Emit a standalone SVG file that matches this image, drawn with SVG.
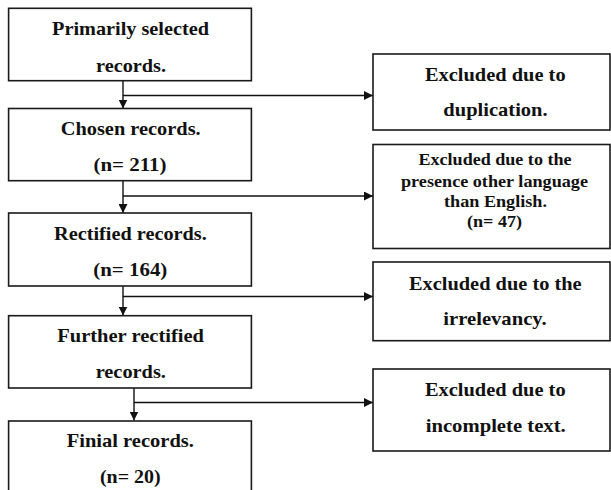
<svg xmlns="http://www.w3.org/2000/svg" width="611" height="490" viewBox="0 0 611 490">
<style>
.box{fill:#fff;stroke:#1a1a1a;stroke-width:1.6}
.t{font-family:"Liberation Serif","Times New Roman",serif;font-weight:bold;font-size:19px;fill:#111;text-anchor:middle}
.s{font-size:16.5px}
.c{fill:none;stroke:#111;stroke-width:1.4}
</style>
<defs>
<marker id="ah" viewBox="0 0 10 10" refX="10" refY="5" markerWidth="9" markerHeight="9" markerUnits="userSpaceOnUse" orient="auto">
<path d="M0,0 L10,5 L0,10 Z" fill="#111"/>
</marker>
</defs>
<rect width="611" height="490" fill="#fff"/>
<g id="connectors">
<line class="c" x1="123" y1="81" x2="123" y2="108.5" marker-end="url(#ah)"/>
<line class="c" x1="123" y1="95.5" x2="373" y2="95.5" marker-end="url(#ah)"/>
<line class="c" x1="123" y1="181" x2="123" y2="213" marker-end="url(#ah)"/>
<line class="c" x1="123" y1="196" x2="373" y2="196" marker-end="url(#ah)"/>
<line class="c" x1="123" y1="286" x2="123" y2="315.5" marker-end="url(#ah)"/>
<line class="c" x1="123" y1="296.5" x2="373" y2="296.5" marker-end="url(#ah)"/>
<line class="c" x1="134" y1="388" x2="134" y2="420.5" marker-end="url(#ah)"/>
<line class="c" x1="134" y1="402.5" x2="373" y2="402.5" marker-end="url(#ah)"/>
</g>
<g id="n1">
<rect class="box" x="8.6" y="8.3" width="242.8" height="72.4"/>
<text class="t" x="130.5" y="34.5" textLength="157" lengthAdjust="spacingAndGlyphs">Primarily selected</text>
<text class="t" x="131" y="71.5" textLength="70" lengthAdjust="spacingAndGlyphs">records.</text>
</g>
<g id="n2">
<rect class="box" x="8.6" y="108.5" width="242.8" height="72.2"/>
<text class="t" x="130.7" y="135" textLength="140" lengthAdjust="spacingAndGlyphs">Chosen records.</text>
<text class="t" x="130" y="171" textLength="73" lengthAdjust="spacingAndGlyphs">(n= 211)</text>
</g>
<g id="n3">
<rect class="box" x="8.6" y="213" width="242.8" height="73"/>
<text class="t" x="130.4" y="240" textLength="152.7" lengthAdjust="spacingAndGlyphs">Rectified records.</text>
<text class="t" x="130.3" y="276" textLength="74" lengthAdjust="spacingAndGlyphs">(n= 164)</text>
</g>
<g id="n4">
<rect class="box" x="8.6" y="315.7" width="242.8" height="72.3"/>
<text class="t" x="130.6" y="342" textLength="146.7" lengthAdjust="spacingAndGlyphs">Further rectified</text>
<text class="t" x="130.8" y="378" textLength="70.3" lengthAdjust="spacingAndGlyphs">records.</text>
</g>
<g id="n5">
<rect class="box" x="8.6" y="421" width="242.8" height="90"/>
<text class="t" x="130.3" y="447.3" textLength="127.3" lengthAdjust="spacingAndGlyphs">Finial records.</text>
<text class="t" x="130.3" y="483" textLength="60.7" lengthAdjust="spacingAndGlyphs">(n= 20)</text>
</g>
<g id="r1">
<rect class="box" x="373" y="54" width="237" height="76"/>
<text class="t" x="495.3" y="81" textLength="140.7" lengthAdjust="spacingAndGlyphs">Excluded due to</text>
<text class="t" x="495.5" y="115.5" textLength="104.3" lengthAdjust="spacingAndGlyphs">duplication.</text>
</g>
<g id="r2">
<rect class="box" x="373" y="144.5" width="237" height="104"/>
<text class="t s" x="495" y="165" textLength="153" lengthAdjust="spacingAndGlyphs">Excluded due to the</text>
<text class="t s" x="494.5" y="186.5" textLength="187" lengthAdjust="spacingAndGlyphs">presence other language</text>
<text class="t s" x="495.5" y="206.5" textLength="103" lengthAdjust="spacingAndGlyphs">than English.</text>
<text class="t s" x="494.5" y="227" textLength="55" lengthAdjust="spacingAndGlyphs">(n= 47)</text>
</g>
<g id="r3">
<rect class="box" x="373" y="262" width="237" height="78.7"/>
<text class="t" x="495.3" y="290" textLength="172.7" lengthAdjust="spacingAndGlyphs">Excluded due to the</text>
<text class="t" x="495" y="325" textLength="103.3" lengthAdjust="spacingAndGlyphs">irrelevancy.</text>
</g>
<g id="r4">
<rect class="box" x="373" y="369" width="237" height="82"/>
<text class="t" x="495.3" y="396" textLength="140.7" lengthAdjust="spacingAndGlyphs">Excluded due to</text>
<text class="t" x="495.7" y="431.7" textLength="140" lengthAdjust="spacingAndGlyphs">incomplete text.</text>
</g>
</svg>
